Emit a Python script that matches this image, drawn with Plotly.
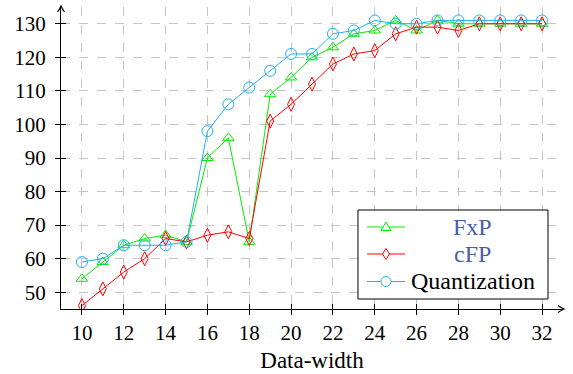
import plotly.graph_objects as go

# Data-width sweep and the three result series
data_width = list(range(10, 33))
fxp = [54, 59, 64, 66, 67, 65, 90, 96, 65, 109, 114, 120, 123, 127, 128, 131,
       128, 131, 130, 130, 130, 130, 130]
cfp = [46, 51, 56, 60, 66, 65, 67, 68, 66, 101, 106, 112, 118, 121, 122, 127,
       129, 129, 128, 130, 130, 130, 130]
quant = [59, 60, 64, 64, 64, 65, 98, 106, 111, 116, 121, 121, 127, 128, 131, 130,
         130, 131, 131, 131, 131, 131, 131]

series_names = ["FxP", "cFP", "Quantization"]
x_ticks = list(range(10, 33, 2))
y_ticks = list(range(50, 131, 10))

FONT = "Liberation Serif"
LEG_BLUE = "#4a5ea6"
COLORS = ["#00ee00", "#ff0000", "#22b0ee"]
SYMBOLS = ["triangle-up-open", "diamond-tall-open", "circle-open"]
SIZES = [10, 10, 11]

fig = go.Figure()
for name, vals, color, symbol, size in zip(series_names, [fxp, cfp, quant],
                                           COLORS, SYMBOLS, SIZES):
    fig.add_trace(go.Scatter(
        x=data_width, y=vals, name=name, mode="lines+markers",
        line=dict(color=color, width=1),
        marker=dict(symbol=symbol, size=size, color=color,
                    line=dict(color=color, width=1)),
        showlegend=False,
    ))

axis_common = dict(
    showline=True, linecolor="black", linewidth=1,
    ticks="outside", ticklen=5, tickcolor="black", tickwidth=1,
    tickfont=dict(family=FONT, size=21, color="black"),
    showgrid=True, gridcolor="#c4c4c4", griddash="dash", gridwidth=1,
    zeroline=False,
)

fig.update_layout(
    width=573, height=374,
    margin=dict(l=61, r=10, t=7, b=65),
    paper_bgcolor="white", plot_bgcolor="white",
    font=dict(family=FONT, size=21, color="black"),
    showlegend=False,
    xaxis=dict(
        range=[9, 33], tickvals=x_ticks, ticktext=[str(v) for v in x_ticks],
        title=dict(text="Data-width", font=dict(family=FONT, size=23), standoff=7),
        **axis_common,
    ),
    yaxis=dict(
        range=[45, 135], tickvals=y_ticks, ticktext=[str(v) for v in y_ticks],
        ticklabelstandoff=5,
        **axis_common,
    ),
    # inner half of the crossing tick marks
    xaxis2=dict(range=[9, 33], overlaying="x", anchor="y", side="bottom",
                tickvals=x_ticks, ticks="inside", ticklen=5, tickcolor="black",
                showticklabels=False, showgrid=False, zeroline=False),
    yaxis2=dict(range=[45, 135], overlaying="y", anchor="x", side="left",
                tickvals=y_ticks, ticks="inside", ticklen=5, tickcolor="black",
                showticklabels=False, showgrid=False, zeroline=False),
)

# dummy trace to activate the secondary axes for the inner tick marks
fig.add_trace(go.Scatter(x=[None], y=[None], xaxis="x2", yaxis="y2",
                         showlegend=False, hoverinfo="skip"))

# arrow tips at the ends of both axis lines
fig.add_shape(type="path", xref="paper", yref="paper",
              xsizemode="pixel", ysizemode="pixel", xanchor=0, yanchor=1,
              path="M -3.5 -5 Q -1 -1.5 0 1 Q 1 -1.5 3.5 -5",
              line=dict(color="black", width=1.2))
fig.add_shape(type="path", xref="paper", yref="paper",
              xsizemode="pixel", ysizemode="pixel", xanchor=1, yanchor=0,
              path="M -5 3.5 Q -1.5 1 1 0 Q -1.5 -1 -5 -3.5",
              line=dict(color="black", width=1.2))

# legend box (paper coordinates of the plot area)
fig.add_shape(type="rect", xref="paper", yref="paper",
              x0=0.5916, x1=0.9701, y0=0.0331, y1=0.3278,
              fillcolor="white", line=dict(color="black", width=1), layer="above")

legend_rows = [0.2715, 0.1821, 0.0911]
marker_paths = [
    "M -5 -3.5 L 5 -3.5 L 0 5 Z",          # triangle
    "M 0 5.5 L 3.5 0 L 0 -5.5 L -3.5 0 Z",  # tall diamond
    None,                                   # circle
]
text_colors = [LEG_BLUE, LEG_BLUE, "black"]
for name, ry, color, mpath, tcol in zip(series_names, legend_rows, COLORS,
                                        marker_paths, text_colors):
    fig.add_shape(type="line", xref="paper", yref="paper",
                  x0=0.6096, x1=0.6853, y0=ry, y1=ry,
                  line=dict(color=color, width=1), layer="above")
    if mpath is None:
        fig.add_shape(type="circle", xref="paper", yref="paper",
                      xsizemode="pixel", ysizemode="pixel",
                      xanchor=0.6474, yanchor=ry, x0=-5, x1=5, y0=-5, y1=5,
                      fillcolor="white", line=dict(color=color, width=1),
                      layer="above")
    else:
        fig.add_shape(type="path", xref="paper", yref="paper",
                      xsizemode="pixel", ysizemode="pixel",
                      xanchor=0.6474, yanchor=ry, path=mpath,
                      fillcolor="white", line=dict(color=color, width=1),
                      layer="above")
    fig.add_annotation(xref="paper", yref="paper", x=0.8207, y=ry,
                       xanchor="center", yanchor="middle", showarrow=False,
                       text=name, font=dict(family=FONT, size=24, color=tcol))

fig.write_html("out.html")
